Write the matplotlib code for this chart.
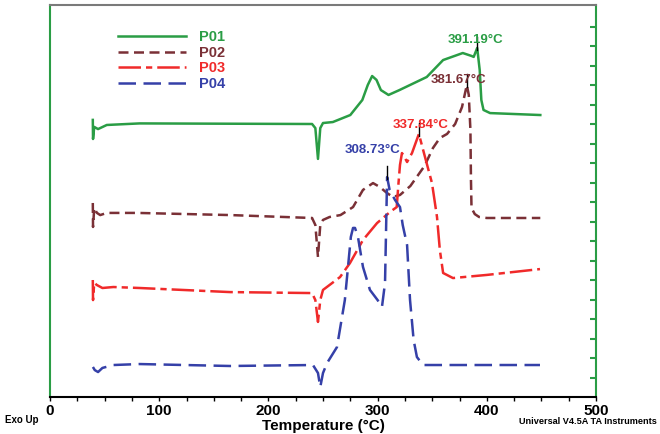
import numpy as np
import matplotlib
matplotlib.use("Agg")
import matplotlib.pyplot as plt

plt.rcParams['font.family'] = ['Liberation Sans Narrow', 'Liberation Sans', 'DejaVu Sans']

# ---- data (temperature in °C, heat flow in arbitrary offset units) ----
p01_t = [39.2, 39.4, 40.5, 44, 52, 82, 240, 243, 245.4, 247.5, 250, 259, 275, 286, 291, 295, 299, 303,
         310, 320, 345, 360, 378, 386, 388, 391.2, 393.5, 395, 397, 403, 449]
p01_y = [14.21, 13.23, 13.85, 13.74, 13.95, 14.03, 14.00, 13.79, 12.21, 13.79, 14.05, 14.10, 14.46, 15.23,
         16.00, 16.46, 16.26, 15.74, 15.49, 15.74, 16.41, 17.28, 17.64, 17.49, 17.44, 17.90, 16.77, 15.23,
         14.72, 14.56, 14.46]

p02_t = [39.2, 39.4, 40.5, 43, 46, 52, 80, 165, 240, 243, 245.4, 247.5, 250, 256, 266, 277.5, 286.6, 295.8,
         302, 308.6, 314, 320.5, 330, 343, 350.7, 357, 363.6, 371, 377.3, 381.7, 383.5, 385, 385.5, 386,
         389, 393, 400, 449]
p02_y = [9.95, 8.72, 9.69, 9.44, 9.33, 9.44, 9.44, 9.33, 9.18, 8.82, 7.18, 8.82, 9.08, 9.23, 9.33, 9.74,
         10.62, 10.97, 10.77, 10.46, 10.26, 10.36, 10.82, 11.85, 12.77, 13.28, 13.49, 14.00, 14.87, 16.00,
         15.49, 13.69, 11.13, 9.69, 9.38, 9.23, 9.18, 9.18]

p03_t = [39.2, 39.4, 40.5, 43, 48, 58, 82, 165, 240, 243, 245.4, 247.5, 250, 265.6, 274.7, 286.6, 299.5,
         311.4, 317.5, 319, 320.5, 322.3, 324.5, 327, 331.5, 337.8, 343.4, 349.8, 354.4, 357, 360, 369,
         400, 448.7]
p03_y = [6.00, 4.97, 5.85, 5.74, 5.59, 5.64, 5.59, 5.38, 5.33, 4.97, 3.85, 4.97, 5.49, 6.15, 6.87, 8.05,
         8.92, 9.49, 9.74, 10.87, 11.90, 12.51, 12.31, 12.05, 12.51, 13.49, 12.31, 10.97, 9.23, 7.54, 6.36,
         6.10, 6.26, 6.56]

p04_t = [39.3, 41, 44, 48, 58, 82, 165, 240.8, 245.4, 247.5, 250, 253.7, 262.8, 270, 272.9, 275.5, 277.5,
         279.3, 282, 286.6, 293, 300, 304, 306.8, 308.7, 311, 316, 320.5, 323, 327, 329.7, 333, 336, 341.6,
         366, 448.7]
p04_y = [1.54, 1.38, 1.28, 1.49, 1.64, 1.69, 1.59, 1.64, 1.23, 0.51, 1.23, 1.74, 2.56, 4.97, 6.67, 8.21,
         8.67, 8.67, 8.21, 6.67, 5.49, 4.97, 4.62, 5.85, 11.28, 10.62, 10.10, 9.74, 8.82, 7.79, 4.97, 2.92,
         2.05, 1.64, 1.64, 1.64]

series_names = ["P01", "P02", "P03", "P04"]
peak_labels = ["391.19°C", "381.67°C", "337.84°C", "308.73°C"]
peak_temps = [391.2, 381.7, 337.8, 308.7]
label_pos = [(389.2, 18.31), (374.5, 16.26), (339.7, 13.95), (295.8, 12.67)]

colors = ["#2a9d45", "#7a3036", "#f02a2a", "#3540a8"]
styles = ["-", (0, (4, 2.2)), (0, (9, 2, 2.5, 2)), (0, (7, 3))]

fig = plt.figure(figsize=(6.6, 4.34), dpi=100)
ax = fig.add_axes([50 / 660, 37 / 434, 546 / 660, 392 / 434])

ts = [p01_t, p02_t, p03_t, p04_t]
ys = [p01_y, p02_y, p03_y, p04_y]
for t, y, c, ls, name in zip(ts, ys, colors, styles, series_names):
    ax.plot(t, y, color=c, linestyle=ls, lw=1.8, label=name)

for t, y, c, pk, lab, pos in zip(ts, ys, colors, peak_temps, peak_labels, label_pos):
    yp = np.interp(pk, t, y)
    ax.plot([pk, pk], [yp - 0.1, yp + 0.55], color="black", lw=1.0)
    ax.text(pos[0], pos[1], lab, color=c, fontsize=9.5, fontweight="bold", ha="center", va="center")

ax.set_xlim(0, 500)
ax.set_ylim(0, 392 / 19.5)
ax.set_xticks(range(0, 501, 100))
ax.set_xticks(np.arange(0, 501, 25), minor=True)
ax.tick_params(axis="x", which="both", direction="out", length=3, width=1, labelsize=11, pad=2)
for lbl in ax.get_xticklabels():
    lbl.set_fontweight("bold")
ax.set_yticks(range(1, 20))
ax.tick_params(axis="y", which="both", left=False, labelleft=False, right=True, direction="in",
               length=4, width=1.5, color="#2a9d45")

ax.spines["left"].set_color("#2a9d45")
ax.spines["right"].set_color("#2a9d45")
ax.spines["top"].set_color("#7a7a7a")
ax.spines["bottom"].set_color("black")
for s in ax.spines.values():
    s.set_linewidth(1.5)

ax.set_xlabel("Temperature (°C)", fontsize=11, fontweight="bold", labelpad=1)

leg = ax.legend(loc="upper left", bbox_to_anchor=(0.112, 0.955), frameon=False, fontsize=10.5,
                handlelength=4.6, handletextpad=0.9, labelspacing=0.12, borderpad=0)
for txt, c in zip(leg.get_texts(), colors):
    txt.set_color(c)
    txt.set_fontweight("bold")

fig.text(5 / 660, 1 - 420 / 434, "Exo Up", fontsize=7, fontweight="bold", va="center", ha="left")
fig.text(657 / 660, 1 - 421 / 434, "Universal V4.5A TA Instruments", fontsize=6.6, fontweight="bold",
         va="center", ha="right")

fig.savefig("out.png", dpi=100)
